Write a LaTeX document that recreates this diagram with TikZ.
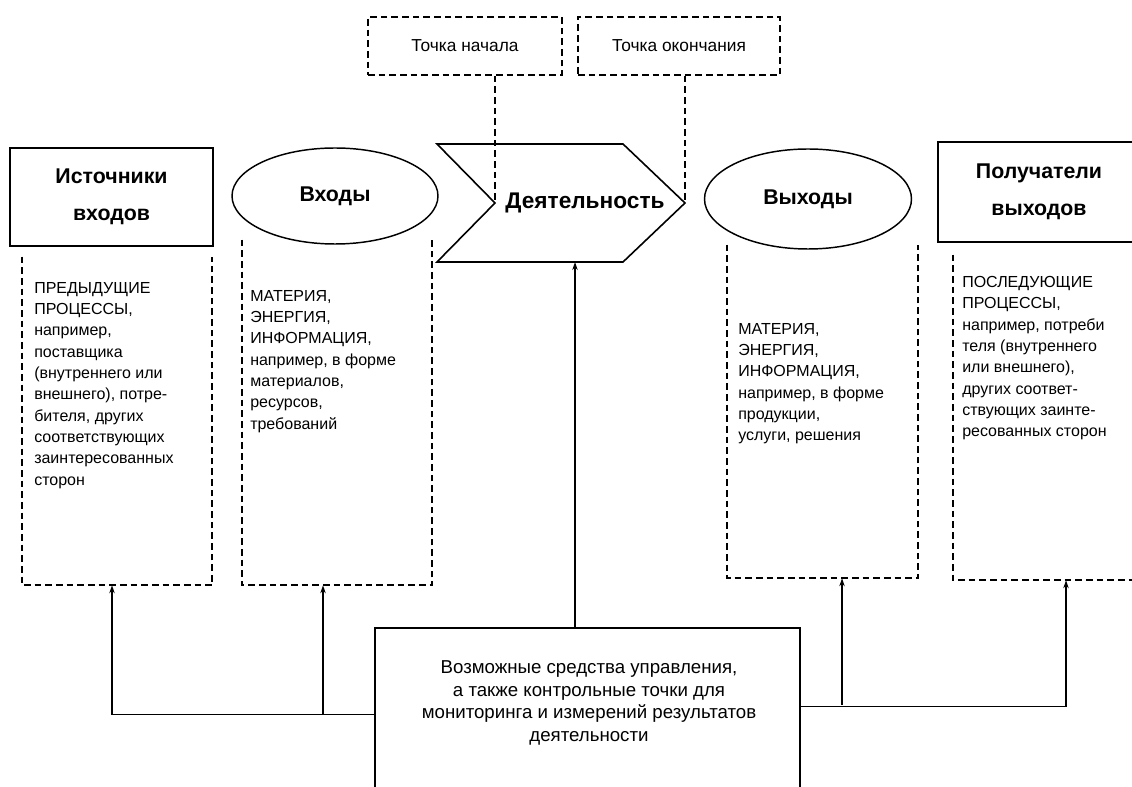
\documentclass[tikz,border=0pt]{standalone}
\usepackage{fontspec}
\setmainfont{Liberation Sans}
\usetikzlibrary{shapes.geometric,arrows.meta}

\tikzset{
  titlebox/.style={draw, line width=1.2pt, align=center, inner sep=0pt,
    font=\bfseries\fontsize{16}{28}\selectfont},
  oval/.style={draw, ellipse, line width=1.1pt, inner sep=0pt,
    font=\bfseries\fontsize{16}{20}\selectfont},
  pointbox/.style={draw, line width=1.2pt, dash pattern=on 5pt off 3pt, inner sep=0pt,
    font=\fontsize{13}{15}\selectfont},
  openbox/.style={line width=1.2pt, dash pattern=on 5pt off 3pt},
  holder/.style={draw=none, inner sep=0pt},
  listtext/.style={anchor=north west, align=left, inner sep=0pt,
    font=\fontsize{12}{16}\selectfont},
  link/.style={line width=1pt, -{Stealth[length=6pt,width=4pt]}},
}

\begin{document}
\begin{tikzpicture}[x=0.75pt, y=-0.75pt]
    \useasboundingbox (0,0) rectangle (1132,787);
    \clip (0,0) rectangle (1132,787);

    \node[pointbox, minimum width=145.5pt, minimum height=43.5pt] (startpt) at (465,46) {Точка начала};
    \node[pointbox, minimum width=151.5pt, minimum height=43.5pt] (endpt) at (679,46) {Точка окончания};

    \node[titlebox, minimum width=152.25pt, minimum height=73.5pt] (srctitle) at (111.5,197) {Источники\\входов};
    \node[oval, minimum width=154.5pt, minimum height=72pt] (inoval) at (335,196) {Входы};
    \node[oval, minimum width=155.25pt, minimum height=75pt] (outoval) at (808,199) {Выходы};
    \node[titlebox, minimum width=151.5pt, minimum height=75pt] (rcvtitle) at (1039,192) {Получатели\\выходов};

    % activity chevron
    \coordinate (actL) at (495,203);
    \coordinate (actR) at (685,203);
    \coordinate (actB) at (575,262);
    \draw[line width=1.2pt] (437,144) -- (623,144) -- (actR) -- (623,262) -- (437,262) -- (actL) -- cycle;
    \node[font=\bfseries\fontsize{17}{20}\selectfont] (acttxt) at (585,203) {Деятельность};

    \draw[openbox] (actL |- startpt.south) -- (actL);
    \draw[openbox] (actR |- endpt.south) -- (actR);

    \node[holder, minimum width=142.5pt, minimum height=246pt] (srcbox) at (117,421) {};
    \node[holder, minimum width=142.5pt, minimum height=258.75pt] (inbox) at (337,412.5) {};
    \node[holder, minimum width=143.25pt, minimum height=249.75pt] (outbox) at (822.5,411.5) {};
    \node[holder, minimum width=147.75pt, minimum height=243.75pt] (rcvbox) at (1051.5,417.5) {};
    \foreach \b in {srcbox,inbox,outbox,rcvbox}
        \draw[openbox] (\b.north west) |- (\b.south east) -- (\b.north east);

    \node[listtext] (srctxt) at (34,282) {ПРЕДЫДУЩИЕ\\ПРОЦЕССЫ,\\например,\\поставщика\\(внутреннего или\\внешнего), потре-\\бителя, других\\соответствующих\\заинтересованных\\сторон};
    \node[listtext] (intxt) at (250,290) {МАТЕРИЯ,\\ЭНЕРГИЯ,\\ИНФОРМАЦИЯ,\\например, в форме\\материалов,\\ресурсов,\\требований};
    \node[listtext] (outtxt) at (738,323) {МАТЕРИЯ,\\ЭНЕРГИЯ,\\ИНФОРМАЦИЯ,\\например, в форме\\продукции,\\услуги, решения};
    \node[listtext] (rcvtxt) at (962,276) {ПОСЛЕДУЮЩИЕ\\ПРОЦЕССЫ,\\например, потреби\\теля (внутреннего\\или внешнего),\\других соответ-\\ствующих заинте-\\ресованных сторон};

    \node[draw, line width=1.2pt, anchor=north, minimum width=318.75pt, minimum height=130pt] (ctrl) at (587.5,627) {};
    \node[align=center, font=\fontsize{14}{17}\selectfont] (ctrltxt) at (589,703) {Возможные средства управления,\\а также контрольные точки для\\мониторинга и измерений результатов\\деятельности};

    \coordinate (srcJ) at (112,0);
    \coordinate (inJ) at (323,0);
    \coordinate (outJ) at (842,0);
    \coordinate (rcvJ) at (1066,0);
    \draw[link] (actB |- ctrl.north) -- (actB);
    \draw[link] (ctrl.west) -| (srcJ |- srcbox.south);
    \draw[link] (inJ |- ctrl.west) -- (inJ |- inbox.south);
    \draw[link] ([yshift=6pt]ctrl.east) -| (rcvJ |- rcvbox.south);
    \draw[link] (outJ |- 0,705) -- (outJ |- outbox.south);
\end{tikzpicture}
\end{document}
